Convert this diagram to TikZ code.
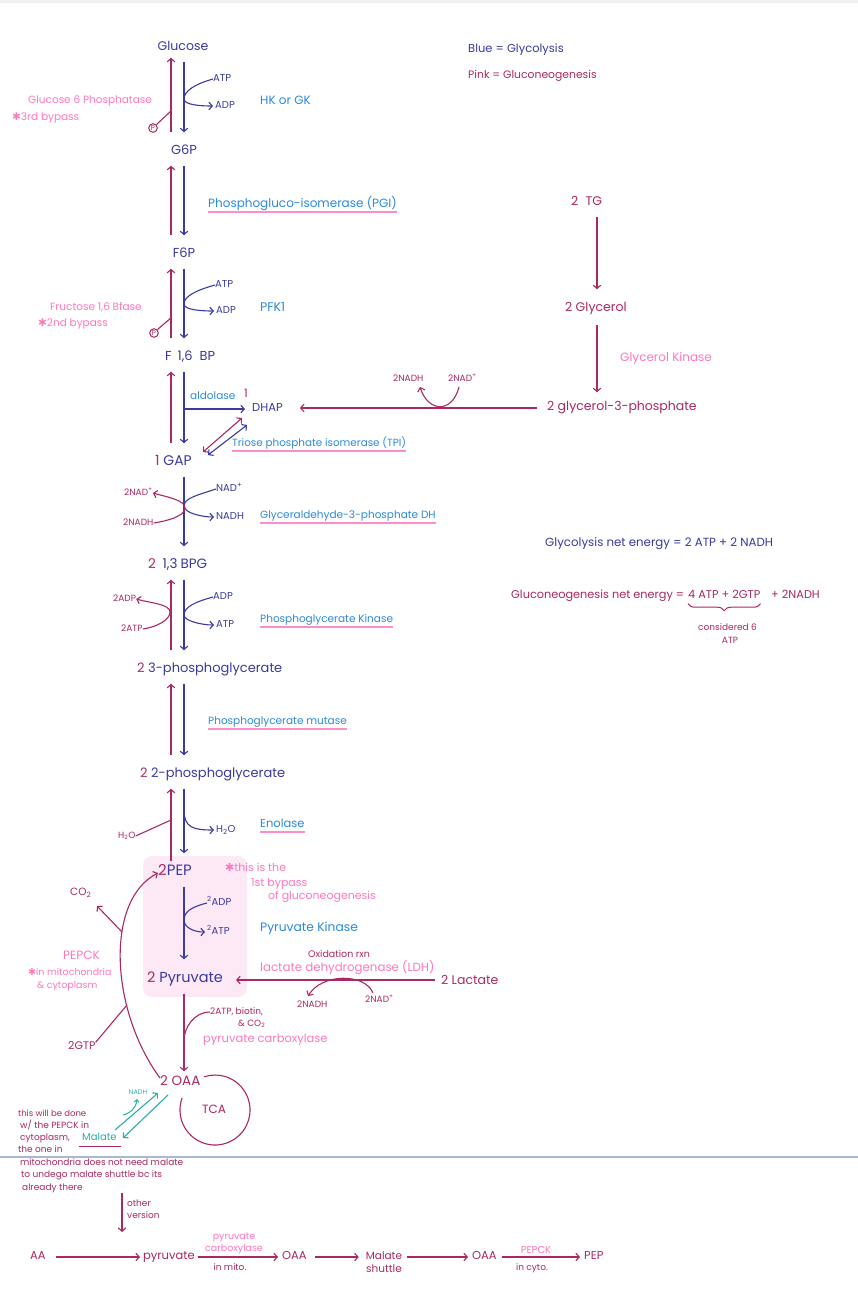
\documentclass[tikz,border=0pt]{standalone}
\usepackage{fontspec}
\setmainfont{Poppins}
\newfontfamily\dvfont{DejaVu Sans}
\usetikzlibrary{arrows.meta,decorations.pathreplacing,calc}
\definecolor{gb}{HTML}{3A3AA0}
\definecolor{lb}{HTML}{2C8ADA}
\definecolor{gm}{HTML}{AA2864}
\definecolor{lp}{HTML}{FF78BE}
\definecolor{ulc}{HTML}{FF8CCC}
\definecolor{tl}{HTML}{2AAEA6}
\definecolor{bx}{HTML}{FDE8F6}
\definecolor{dv}{HTML}{A9B9D1}
\newcommand\fsz[1]{\fontsize{#1}{#1}\selectfont}
\newcommand\myast{{\dvfont\char"2731}}
\tikzset{
  tx/.style={inner sep=0pt, anchor=west, text height=0.7em, text depth=0.2em},
  mainb/.style={tx, text=gb, font=\fsz{13}},
  mainm/.style={tx, text=gm, font=\fsz{13}},
  enz/.style={tx, text=lb, font=\fsz{10.5}},
  enzp/.style={tx, text=lp, font=\fsz{10.5}},
  smb/.style={tx, text=gb, font=\fsz{10}},
  smm/.style={tx, text=gm, font=\fsz{9}},
  notem/.style={tx, text=gm, font=\fsz{9}},
  mytip/.style={-{Straight Barb[length=3.4pt,width=7.5pt]}},
  ab/.style={draw=gb, line width=1.1pt, mytip},
  ap/.style={draw=gm, line width=1.1pt, mytip},
  pl/.style={draw=gm, line width=1.1pt},
  tlarr/.style={draw=tl, line width=1.1pt, mytip},
  pup/.style={ap, shorten <=15pt, shorten >=9pt},
  bdn/.style={ab, shorten <=9pt, shorten >=15pt},
  uline/.style={draw=ulc, line width=1.2pt},
  pcirc/.style={circle, draw=gm, line width=1pt, inner sep=0.8pt, text=gm, font=\fsz{7}}
}
\newcommand\ul[1]{\draw[uline] ([yshift=-4.5pt]#1.base west) -- ([yshift=-4.5pt]#1.base east);}
\begin{document}
\begin{tikzpicture}[x=1pt,y=-1pt]
\useasboundingbox (0,0) rectangle (858,1293);
\fill[white] (0,0) rectangle (858,1293);
\fill[gray!12] (0,0) rectangle (858,3);
% PEP highlight
\fill[bx, rounded corners=9pt] (143,856) rectangle (247,997);
\coordinate (xb) at (184,0);
\coordinate (xp) at (171,0);
\coordinate (xr) at (597,0);

% legend
\node[tx, text=gb, font=\fsz{11.5}] (leg1) at (468,50) {Blue = Glycolysis};
\node[tx, text=gm, font=\fsz{10.8}] (leg2) at (468,76) {Pink = Gluconeogenesis};

% main chain
\node[mainb, anchor=center, font=\fsz{12.5}] (glc) at (183,48) {Glucose};
\node[mainb, anchor=center] (g6p) at (184,152) {G6P};
\node[mainb, anchor=center] (f6p) at (184,255) {F6P};
\node[mainb] (f16) at (165,358) {F\hspace{6pt}1,6\hspace{7pt}BP};
\node[mainb, font=\fsz{14}] (gap) at (155,463) {\textcolor{gm}{1} GAP};
\node[mainb, font=\fsz{13.5}] (bpg) at (148,566) {\textcolor{gm}{2}\hspace{3pt} 1,3\hspace{3pt}BPG};
\node[mainb, font=\fsz{13}] (pg3) at (137,670) {\textcolor{gm}{2} 3-phosphoglycerate};
\node[mainb, font=\fsz{13}] (pg2) at (140,775) {\textcolor{gm}{2} 2-phosphoglycerate};
\node[mainb, font=\fsz{15}] (pep) at (158,873) {\textcolor{gm}{2}PEP};
\node[mainb, font=\fsz{14.5}] (pyr) at (147,980) {\textcolor{gm}{2} Pyruvate};
\node[mainm, font=\fsz{13.5}] (oaa) at (160,1083) {2 OAA};

% chain arrows
\draw[pup, shorten >=5pt] (g6p.north -| xp) -- (glc.south -| xp);
\draw[bdn] (glc.south -| xb) -- (g6p.north -| xb);
\draw[pup] (f6p.north -| xp) -- (g6p.south -| xp);
\draw[bdn] (g6p.south -| xb) -- (f6p.north -| xb);
\draw[pup] (f16.north -| xp) -- (f6p.south -| xp);
\draw[bdn] (f6p.south -| xb) -- (f16.north -| xb);
\draw[pup] (gap.north -| xp) -- (f16.south -| xp);
\draw[bdn] (f16.south -| xb) -- (gap.north -| xb);
\draw[bdn] (gap.south -| xb) -- (bpg.north -| xb);
\draw[pup] (pg3.north -| xp) -- (bpg.south -| xp);
\draw[bdn] (bpg.south -| xb) -- (pg3.north -| xb);
\draw[pup] (pg2.north -| xp) -- (pg3.south -| xp);
\draw[bdn] (pg3.south -| xb) -- (pg2.north -| xb);
\draw[pup, shorten <=7pt] (pep.north -| xp) -- (pg2.south -| xp);
\draw[bdn] (pg2.south -| xb) -- (pep.north -| xb);
\draw[bdn, shorten >=16pt] (pep.south -| xb) -- (pyr.north -| xb);
\draw[ap, shorten <=9pt, shorten >=7pt] (pyr.south -| xb) -- (oaa.north -| xb);

% Glucose step
\node[smb] (atp1) at (213,79) {ATP};
\node[smb] (adp1) at (215,106) {ADP};
\draw[ab, shorten >=2pt] (atp1.west) .. controls +(-18,5) and +(0,-8) .. (184,99) .. controls +(0,6) and +(-14,0) .. (adp1.west);
\node[enz, font=\fsz{12}] (hk) at (260,102) {HK or GK};
\node[enzp] (g6pase) at (28,101) {Glucose 6 Phosphatase};
\node[enzp] (byp3) at (12,118) {\myast3rd bypass};
\node[pcirc] (p1) at (153,128) {P};
\draw[pl] (p1.north east) -- (171,111);

% PGI
\node[enz, font=\fsz{12}] (pgi) at (208,205) {Phosphogluco-isomerase (PGI)};
\ul{pgi}

% PFK
\node[smb] (atp2) at (215,285) {ATP};
\node[smb] (adp2) at (216,311) {ADP};
\draw[ab, shorten >=2pt] (atp2.west) .. controls +(-18,5) and +(0,-8) .. (184,304) .. controls +(0,6) and +(-14,0) .. (adp2.west);
\node[enz, font=\fsz{12.5}] (pfk) at (260,309) {PFK1};
\node[enzp] (f16bp) at (50,308) {Fructose 1,6 Bfase};
\node[enzp] (byp2) at (38,324) {\myast2nd bypass};
\node[pcirc] (p2) at (154,333) {P};
\draw[pl] (p2.north east) -- (172,317);

% aldolase / DHAP
\node[tx, text=gm, font=\fsz{11.5}] (one) at (244,395) {1};
\node[mainb, font=\fsz{11.5}] (dhap) at (252,409) {DHAP};
\node[enz] (ald) at (190,397) {aldolase};
\draw[uline] (190,409) -- (230,409);
\draw[ab, shorten >=7pt] (dhap.west -| xb) -- (dhap.west);
\draw[draw=gm, line width=1.1pt, {Straight Barb[length=3.4pt,width=7.5pt]}-{Straight Barb[length=3.4pt,width=7.5pt]}] (242,418) -- (203,452);
\draw[draw=gb, line width=1.1pt, {Straight Barb[length=3.4pt,width=7.5pt]}-{Straight Barb[length=3.4pt,width=7.5pt]}] (247,425) -- (208,455);
\node[enz, font=\fsz{10.4}] (tpi) at (232,444) {Triose phosphate isomerase (TPI)};
\ul{tpi}

% glycerol branch
\node[mainm, font=\fsz{12.5}] (tg) at (571,203) {2\hspace{4pt} TG};
\node[mainm, font=\fsz{12.5}] (gly) at (565,309) {2 Glycerol};
\node[mainm, font=\fsz{12.5}] (g3p) at (547,408) {2 glycerol-3-phosphate};
\draw[ap, shorten <=9pt, shorten >=15pt] (tg.south -| xr) -- (gly.north -| xr);
\draw[ap, shorten <=11pt, shorten >=11pt] (gly.south -| xr) -- (g3p.north -| xr);
\node[enzp, font=\fsz{12}] (gk) at (620,359) {Glycerol Kinase};
\draw[ap, shorten <=10pt, shorten >=17pt] (g3p.west) -- (dhap.east |- g3p.west);
\node[smm] (n3a) at (393,379) {2NADH};
\node[smm] (n3b) at (448,379) {2NAD\textsuperscript{+}};
\draw[ap] (459,387) .. controls (452,414) and (428,412) .. (420,387);

% GAP -> BPG
\node[smb] (nad) at (216,489) {NAD\textsuperscript{+}};
\node[smb] (nadh) at (216,517) {NADH};
\draw[ab, shorten >=2pt] (nad.west) .. controls +(-18,6) and +(0,-8) .. (184,506) .. controls +(0,7) and +(-14,0) .. (nadh.west);
\node[smm] (pn1) at (124,493) {2NAD\textsuperscript{+}};
\node[smm] (pn2) at (123,523) {2NADH};
\draw[ap] (pn2.east) .. controls +(14,-2) and +(0,8) .. (185,508) .. controls +(0,-8) and +(14,4) .. (pn1.east);
\node[enz] (gdh) at (260,516) {Glyceraldehyde-3-phosphate DH};
\ul{gdh}

% BPG -> 3PG
\node[smb] (adp3) at (213,597) {ADP};
\node[smb] (atp3) at (216,625) {ATP};
\draw[ab, shorten >=2pt] (adp3.west) .. controls +(-18,5) and +(0,-8) .. (184,615) .. controls +(0,6) and +(-14,0) .. (atp3.west);
\node[smm] (pa1) at (113,599) {2ADP};
\node[smm] (pa2) at (121,629) {2ATP};
\draw[ap] (pa2.east) .. controls +(14,-2) and +(0,8) .. (170,612) .. controls +(0,-8) and +(14,4) .. (pa1.east);
\node[enz] (pgk) at (260,620) {Phosphoglycerate Kinase};
\ul{pgk}

% 3PG -> 2PG
\node[enz] (pgm) at (208,722) {Phosphoglycerate mutase};
\ul{pgm}

% enolase
\node[smb] (h2o) at (216,830) {H\textsubscript{2}O};
\draw[ab, shorten >=2pt] (184,810) .. controls (184,828) and (194,830) .. (h2o.west);
\node[smm] (ph2o) at (118,836) {H\textsubscript{2}O};
\draw[pl] (ph2o.east) -- (171,820);
\node[enz, font=\fsz{11.5}] (eno) at (260,825) {Enolase};
\ul{eno}

% PEP -> pyruvate
\node[smb] (adp4) at (207,903) {\textsuperscript{2}ADP};
\node[smb] (atp4) at (207,932) {\textsuperscript{2}ATP};
\draw[ab, shorten >=2pt] (adp4.west) .. controls +(-16,4) and +(0,-8) .. (184,920) .. controls +(0,7) and +(-14,0) .. (atp4.west);
\node[enz, font=\fsz{12.3}] (pk) at (260,929) {Pyruvate Kinase};
\node[enzp, font=\fsz{11}] (b1a) at (225,869) {\myast this is the};
\node[enzp, font=\fsz{11}] (b1b) at (251,884) {1st bypass};
\node[enzp, font=\fsz{11}] (b1c) at (268,897) {of gluconeogenesis};

% lactate
\node[mainm, font=\fsz{12.5}] (lac) at (441,982) {2 Lactate};
\draw[ap, shorten <=6pt, shorten >=13pt] (pyr.east -| lac.west) -- (pyr.east);
\node[tx, text=gm, font=\fsz{9.5}] (oxr) at (308,955) {Oxidation rxn};
\node[enzp, font=\fsz{11.8}] (ldh) at (260,969) {lactate dehydrogenase (LDH)};
\node[smm] (ln1) at (297,1005) {2NADH};
\node[smm] (ln2) at (365,1000) {2NAD\textsuperscript{+}};
\draw[ap] (373,993) .. controls (365,973) and (322,973) .. (308,996);

% pyruvate carboxylase
\node[smm] (pc1) at (210,1012) {2ATP, biotin,};
\node[smm] (pc2) at (238,1024) {\& CO\textsubscript{2}};
\draw[pl] (pc1.west) .. controls +(-16,0) and +(0,-12) .. (184,1040);
\node[enzp, font=\fsz{11.5}] (pcx) at (203,1040) {pyruvate carboxylase};

% TCA
\coordinate (tcac) at (215,1110);
\draw[pl] (tcac) ++(160:35pt) arc[start angle=160, end angle=468, radius=35pt];
\node[tx, anchor=center, text=gm, font=\fsz{12}] (tca) at (214,1111) {TCA};

% PEPCK bypass
\draw[ap] ([yshift=5pt]oaa.west) .. controls (110,1010) and (105,900) .. (pep.west);
\node[tx, text=gm, font=\fsz{10.5}] (co2) at (70,893) {CO\textsubscript{2}};
\draw[ap] (122,932) -- (97,906);
\node[smm, font=\fsz{11}] (gtp) at (68,1047) {2GTP};
\draw[pl] (gtp.north east) -- (127,1005);
\node[enzp, font=\fsz{12}] (pepck) at (63,957) {PEPCK};
\node[enzp, font=\fsz{9.5}] (pk2) at (28,973) {\myast in mitochondria};
\node[enzp, font=\fsz{9.5}] (pk3) at (37,986) {\& cytoplasm};

% malate shuttle (teal)
\draw[tlarr] (115,1130) -- (158,1093);
\draw[tlarr] (168,1095) -- (123,1138);
\draw[draw=tl, line width=1pt, -{Straight Barb[length=2.5pt,width=5pt]}] (123,1115) .. controls (131,1113) and (136,1108) .. (137,1099);
\node[tx, anchor=center, text=tl, font=\fsz{6.5}] (tnadh) at (138,1092) {NADH};
\node[tx, text=tl, font=\fsz{10}] (mal) at (82,1138) {Malate};
\draw[pl, line width=1pt] (79,1146) -- (121,1146);

% notes
\node[notem, font=\fsz{8.5}] (nt1) at (18,1114) {this will be done};
\node[notem] (nt2) at (20,1126) {w/ the PEPCK in};
\node[notem] (nt3) at (20,1138) {cytoplasm,};
\node[notem] (nt4) at (18,1150) {the one in};
\node[notem] (nt5) at (20,1163) {mitochondria does not need malate};
\node[notem] (nt6) at (21,1175) {to undego malate shuttle bc its};
\node[notem] (nt7) at (22,1188) {already there};

% divider
\draw[dv, line width=1.6pt] (0,1157) -- (858,1157);

% other version
\coordinate (ov1) at (122,1193);
\coordinate (ov2) at (122,1232);
\draw[ap] (ov1) -- (ov2);
\node[notem] (ov3) at (127,1204) {other};
\node[notem] (ov4) at (127,1216) {version};

% bottom row
\node[mainm, font=\fsz{11.5}] (aa) at (30,1257) {AA};
\node[mainm, font=\fsz{11.5}] (pyr2) at (143,1257) {pyruvate};
\node[mainm, font=\fsz{11.5}] (oaa2) at (282,1257) {OAA};
\node[mainm, font=\fsz{10.5}, anchor=center] (mal2) at (384,1257) {Malate};
\node[mainm, font=\fsz{10.5}, anchor=center] (shut) at (384,1270) {shuttle};
\node[mainm, font=\fsz{11.5}] (oaa3) at (472,1257) {OAA};
\node[mainm, font=\fsz{11.5}] (pep2) at (584,1257) {PEP};
\draw[ap, shorten <=10pt, shorten >=3pt] (aa.east) -- (pyr2.west);
\draw[ap, shorten <=3pt, shorten >=4pt] (pyr2.east) -- (oaa2.west);
\draw[ap, shorten <=8pt, shorten >=7pt] (oaa2.east) -- (mal2.west);
\draw[ap, shorten <=5pt, shorten >=4pt] (mal2.east) -- (oaa3.west);
\draw[ap, shorten <=5pt, shorten >=4pt] (oaa3.east) -- (pep2.west);
\node[enzp, font=\fsz{9.5}, anchor=center] (bpc1) at (234,1237) {pyruvate};
\node[enzp, font=\fsz{9.5}, anchor=center] (bpc2) at (234,1249) {carboxylase};
\node[smm, anchor=center] (bmito) at (230,1268) {in mito.};
\node[enzp, font=\fsz{10}, anchor=center] (bpepck) at (536,1251) {PEPCK};
\node[smm, anchor=center] (bcyto) at (532,1268) {in cyto.};

% energy
\node[tx, text=gb, font=\fsz{11.8}] (gle) at (545,544) {Glycolysis net energy = 2 ATP + 2 NADH};
\node[tx, text=gm, font=\fsz{11.3}] (gn1) at (511,596) {Gluconeogenesis net energy =};
\node[tx, text=gm, font=\fsz{11.3}] (gn2) at (688,596) {4 ATP + 2GTP};
\node[tx, text=gm, font=\fsz{11.3}] (gn3) at (771,596) {+ 2NADH};
\draw[gm, line width=1pt, decorate, decoration={brace, amplitude=7pt}] ([yshift=-3pt]gn2.south east) -- ([yshift=-3pt]gn2.south west);
\node[smm] (cons1) at (698,628) {considered 6};
\node[smm, anchor=center] (cons2) at (730,641) {ATP};
\end{tikzpicture}
\end{document}
